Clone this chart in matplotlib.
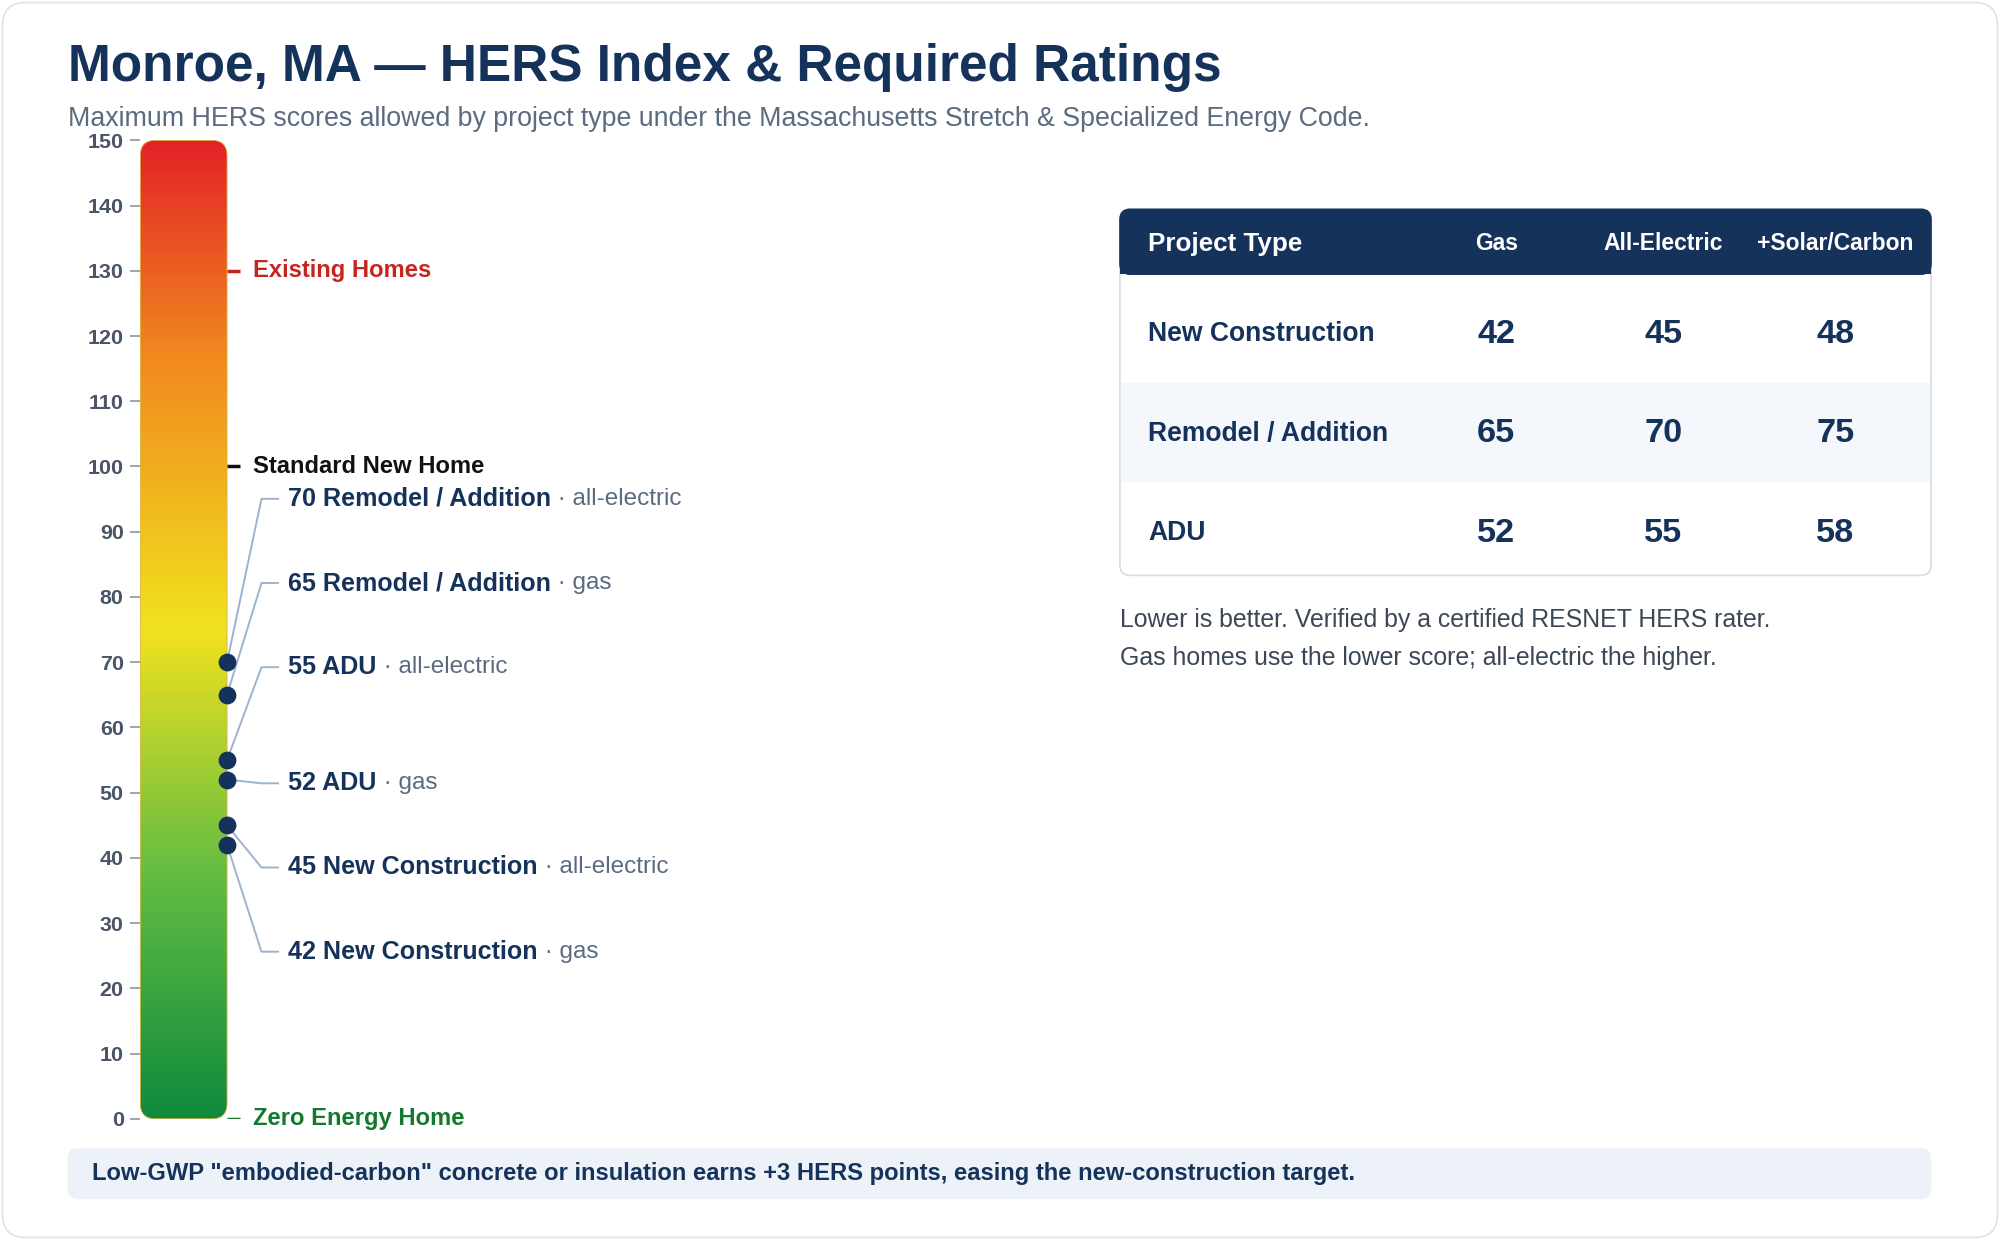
import numpy as np
import matplotlib
matplotlib.use("Agg")
import matplotlib.pyplot as plt
from matplotlib.patches import FancyBboxPatch, Rectangle
from matplotlib.colors import LinearSegmentedColormap

plt.rcParams['font.family'] = ['Liberation Sans', 'DejaVu Sans']

# ---------------- data ----------------
project_types = ["New Construction", "Remodel / Addition", "ADU"]
columns = ["Gas", "All-Electric", "+Solar/Carbon"]
gas = [42, 65, 52]
all_electric = [45, 70, 55]
solar_carbon = [48, 75, 58]
ref_values = [130, 100, 0]
ref_labels = ["Existing Homes", "Standard New Home", "Zero Energy Home"]
ref_colors = ["#c8241f", "#111111", "#13792f"]
yticks = list(range(0, 151, 10))

NAVY = "#15325b"
GRAY = "#5b6b80"
W, H = 1568, 972
S = 0.918 * 1.2  # display px -> pt

fig = plt.figure(figsize=(20, 12.4), dpi=100)
bg = fig.add_axes([0, 0, 1, 1])
bg.set_xlim(0, W); bg.set_ylim(H, 0); bg.axis("off")

bg.add_patch(FancyBboxPatch((2, 2), W - 4, H - 4, boxstyle="round,pad=0,rounding_size=18",
                            fc="white", ec="#dde3ea", lw=1.2))
bg.text(53, 53, "Monroe, MA — HERS Index & Required Ratings", fontsize=30 * S * 1.12,
        fontweight="bold", color=NAVY, va="center", ha="left")
bg.text(53, 93, "Maximum HERS scores allowed by project type under the Massachusetts Stretch & Specialized Energy Code.",
        fontsize=15.5 * S * 1.13, color=GRAY, va="center", ha="left")

# table
tx0, tx1 = 878, 1514
bg.add_patch(FancyBboxPatch((tx0, 164), tx1 - tx0, 451 - 164, boxstyle="round,pad=0,rounding_size=8",
                            fc="white", ec="#d5dde7", lw=1.2))
bg.add_patch(FancyBboxPatch((tx0, 164), tx1 - tx0, 51, boxstyle="round,pad=0,rounding_size=8",
                            fc=NAVY, ec=NAVY, lw=1))
bg.add_patch(Rectangle((tx0, 200), tx1 - tx0, 15, fc=NAVY, ec="none"))
bg.add_patch(Rectangle((tx0 + 1, 300), tx1 - tx0 - 2, 78, fc="#f4f7fb", ec="none"))
col_x = [1173, 1304, 1439]
bg.text(900, 191, "Project Type", fontsize=14.5 * S * 1.17, fontweight="bold", color="white", va="center")
for cx, c in zip(col_x, columns):
    bg.text(cx, 191, c, fontsize=13 * S * 1.15, fontweight="bold", color="white", va="center", ha="center")
row_y = [262, 340, 418]
for ry, name, a, b, c in zip(row_y, project_types, gas, all_electric, solar_carbon):
    bg.text(900, ry, name, fontsize=15.5 * S * 1.12, fontweight="bold", color=NAVY, va="center")
    for cx, v in zip(col_x, (a, b, c)):
        bg.text(cx, ry, str(v), fontsize=20 * S * 1.12, fontweight="bold", color=NAVY, va="center", ha="center")
bg.text(878, 486, "Lower is better. Verified by a certified RESNET HERS rater.", fontsize=14.5 * S * 1.12,
        color="#3c4756", va="center")
bg.text(878, 516, "Gas homes use the lower score; all-electric the higher.", fontsize=14.5 * S * 1.12,
        color="#3c4756", va="center")

# footer
bg.add_patch(FancyBboxPatch((53, 900), 1514 - 53, 40, boxstyle="round,pad=0,rounding_size=8",
                            fc="#edf2f8", ec="none"))
bg.text(72, 920, 'Low-GWP "embodied-carbon" concrete or insulation earns +3 HERS points, easing the new-construction target.',
        fontsize=14 * S * 1.11, fontweight="bold", color=NAVY, va="center")

# ---------------- gauge ----------------
gx0, gtop, gbot, gw = 110, 110, 877, 600
ax = fig.add_axes([gx0 / W, (H - gbot) / H, gw / W, (gbot - gtop) / H])
ax.set_xlim(0, gw); ax.set_ylim(0, 150)
ax.patch.set_alpha(0)
for s in ax.spines.values():
    s.set_visible(False)
ax.set_xticks([])
ax.set_yticks(yticks)
ax.tick_params(axis="y", length=7, width=1.2, color="#8a97a8", pad=5, labelsize=13 * S * 1.08,
               labelcolor="#4a5568")
for lab in ax.get_yticklabels():
    lab.set_fontweight("bold")

bar_w = 68
cmap = LinearSegmentedColormap.from_list("hers", [(0, "#0f8a3c"), (0.25, "#63bd43"), (0.5, "#f2e21e"),
                                                 (0.78, "#f0891e"), (1, "#e32227")])
grad = np.linspace(0, 1, 256).reshape(-1, 1)
im = ax.imshow(grad, cmap=cmap, origin="lower", extent=[0, bar_w, 0, 150], aspect="auto", zorder=1)
ypx = (gbot - gtop) / 150.0
clip = FancyBboxPatch((0, 0), bar_w, 150, boxstyle="round,pad=0,rounding_size=12",
                      mutation_aspect=1 / ypx, fc="none", ec="#d9b23a", lw=0.6, zorder=2)
ax.add_patch(clip)
im.set_clip_path(clip)

# reference markers
for v, lab, col in zip(ref_values, ref_labels, ref_colors):
    ax.plot([bar_w, bar_w + 10], [v, v], color=col, lw=2.5, zorder=3, solid_capstyle="butt")
    ax.text(bar_w + 20, v, lab, color=col, fontsize=14.5 * S * 1.07, fontweight="bold", va="center")

# points and labels
pts = []
for name, g, e in zip(project_types, gas, all_electric):
    pts.append((e, name, "all-electric"))
    pts.append((g, name, "gas"))
pts.sort(key=lambda p: -p[0])
label_ypx = [391, 457, 523, 614, 680, 746]
for (v, name, kind), lyp in zip(pts, label_ypx):
    ly = (gbot - lyp) / ypx
    ax.plot([bar_w, 95, 108], [v, ly, ly], color="#9db3cf", lw=1.4, zorder=3)
    ax.scatter([bar_w], [v], s=140, color=NAVY, zorder=5)
    t = ax.text(116, ly, f"{v} {name}", color=NAVY, fontsize=15.5 * S * 1.06, fontweight="bold", va="center")
    ax.annotate(f" · {kind}", xycoords=t, xy=(1, 0.5), va="center", ha="left",
                color=GRAY, fontsize=15 * S * 1.06)

fig.savefig("out.png", dpi=100)
